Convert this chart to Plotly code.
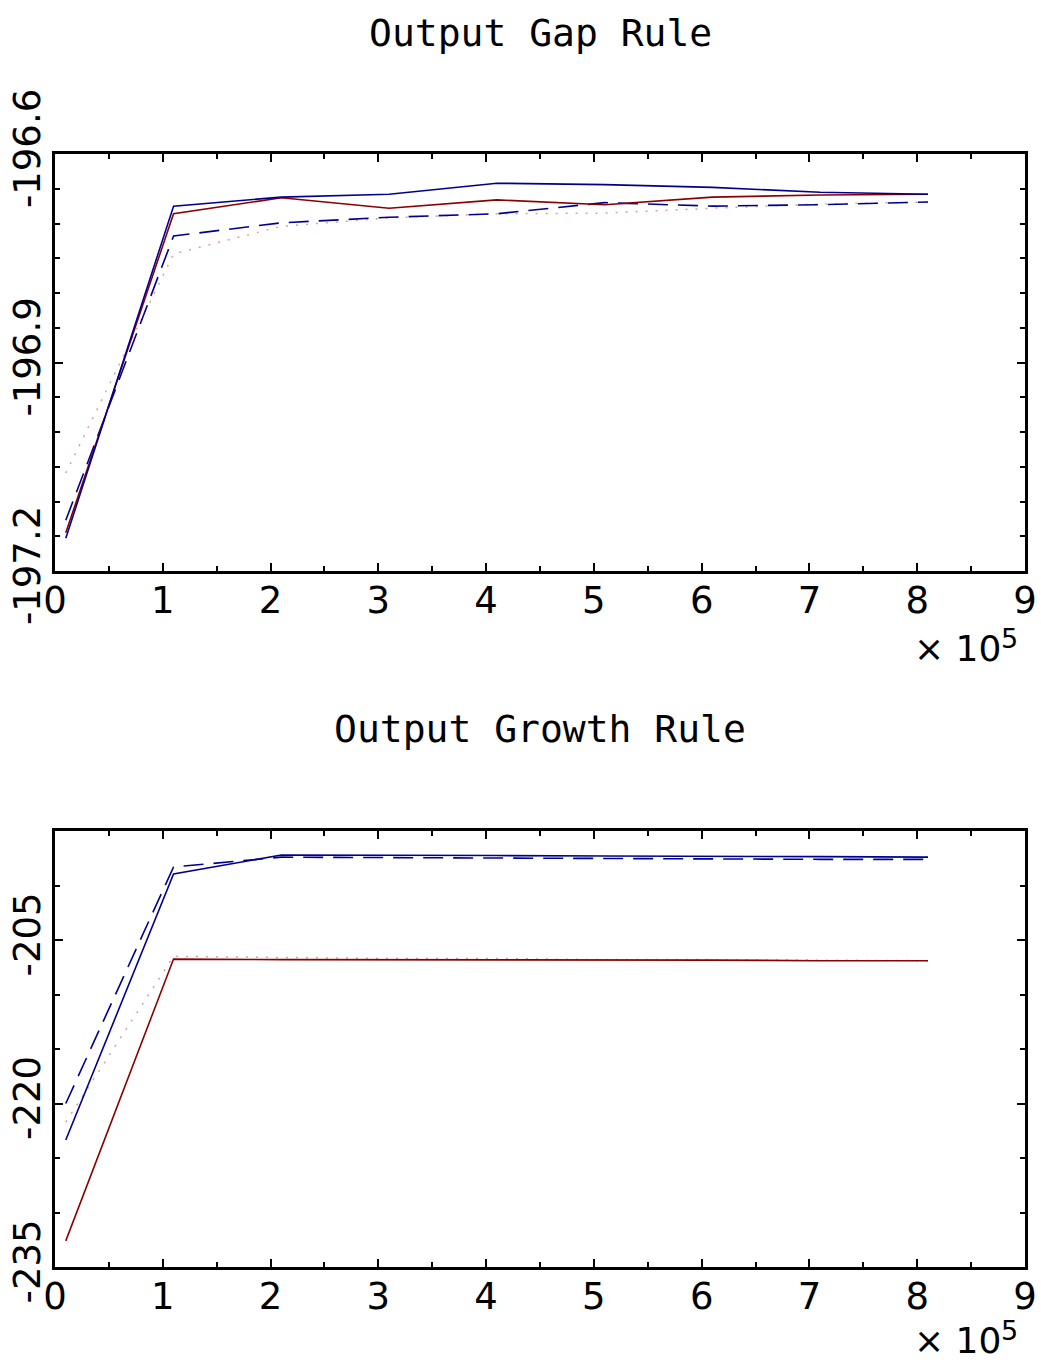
import plotly.graph_objects as go

# ---- data ----
x_vals = [1e4, 1.1e5, 2.1e5, 3.1e5, 4.1e5, 5.1e5, 6.1e5, 7.1e5, 8.1e5]

gap_blue_solid = [-197.153, -196.675, -196.662, -196.658, -196.642, -196.644, -196.648, -196.655, -196.658]
gap_red_solid = [-197.145, -196.686, -196.663, -196.678, -196.666, -196.673, -196.662, -196.659, -196.658]
gap_blue_dashed = [-197.127, -196.718, -196.699, -196.691, -196.686, -196.670, -196.675, -196.673, -196.669]
gap_dotted = [-197.059, -196.744, -196.704, -196.692, -196.686, -196.685, -196.678, -196.672, -196.669]

growth_blue_solid = [-223.35, -198.95, -197.2, -197.2, -197.25, -197.3, -197.3, -197.35, -197.4]
growth_blue_dashed = [-220.0, -198.3, -197.4, -197.45, -197.5, -197.5, -197.55, -197.6, -197.6]
growth_red_solid = [-232.6, -206.75, -206.8, -206.8, -206.8, -206.85, -206.85, -206.9, -206.9]
growth_dotted = [-221.7, -206.5, -206.6, -206.7, -206.7, -206.8, -206.8, -206.85, -206.9]

x_tickvals = [0, 1e5, 2e5, 3e5, 4e5, 5e5, 6e5, 7e5, 8e5, 9e5]
x_ticktext = ["0", "1", "2", "3", "4", "5", "6", "7", "8", "9"]
gap_ytickvals = [-197.2, -196.9, -196.6]
gap_yticktext = ["-197.2", "-196.9", "-196.6"]
growth_ytickvals = [-235, -220, -205]
growth_yticktext = ["-235", "-220", "-205"]

titles = ["Output Gap Rule", "Output Growth Rule"]

BLUE = "#00008f"
RED = "#8b0000"
DOT = "rgb(215,160,160)"

fig = go.Figure()

def add_set(xa, ya, dotted, dashed, red, blue):
    fig.add_trace(go.Scatter(x=x_vals, y=dotted, mode="lines", xaxis=xa, yaxis=ya,
                             line=dict(color=DOT, width=1.5, dash="2px,8px")))
    fig.add_trace(go.Scatter(x=x_vals, y=dashed, mode="lines", xaxis=xa, yaxis=ya,
                             line=dict(color=BLUE, width=1.6, dash="20px,10px")))
    fig.add_trace(go.Scatter(x=x_vals, y=red, mode="lines", xaxis=xa, yaxis=ya,
                             line=dict(color=RED, width=1.6)))
    fig.add_trace(go.Scatter(x=x_vals, y=blue, mode="lines", xaxis=xa, yaxis=ya,
                             line=dict(color=BLUE, width=1.6)))

add_set("x", "y", gap_dotted, gap_blue_dashed, gap_red_solid, gap_blue_solid)
add_set("x2", "y2", growth_dotted, growth_blue_dashed, growth_red_solid, growth_blue_solid)

tickfont = dict(family="DejaVu Sans", size=37, color="black")

def xaxis(anchor):
    return dict(
        anchor=anchor, domain=[0, 1], range=[0, 9e5], tickmode="array", tickvals=x_tickvals, ticktext=x_ticktext,
        showline=True, linewidth=3, linecolor="black", mirror="ticks",
        ticks="inside", ticklen=8, tickwidth=1.5, tickcolor="black",
        minor=dict(tickmode="linear", tick0=0, dtick=5e4, ticks="inside", ticklen=5, tickwidth=1.5, tickcolor="black"),
        showgrid=False, zeroline=False, tickfont=tickfont, automargin=False,
        ticklabelstandoff=-5,
    )

def yaxis(anchor, rng, tv, tt, dminor, domain):
    return dict(
        anchor=anchor, range=rng, domain=domain, tickmode="array", tickvals=tv, ticktext=tt,
        tickangle=-90,
        showline=True, linewidth=3, linecolor="black", mirror="ticks",
        ticks="inside", ticklen=8, tickwidth=1.5, tickcolor="black",
        minor=dict(tickmode="linear", tick0=rng[0], dtick=dminor, ticks="inside", ticklen=5, tickwidth=1.5, tickcolor="black"),
        showgrid=False, zeroline=False, tickfont=tickfont, automargin=False,
        ticklabelstandoff=-3,
    )

H = 1362.0
top_dom = [(H - 571) / H, (H - 154) / H]
bot_dom = [(H - 1267) / H, (H - 831) / H]

fig.update_layout(
    width=1041, height=1362,
    margin=dict(l=55, r=16, t=0, b=0, pad=0),
    paper_bgcolor="white", plot_bgcolor="white",
    showlegend=False,
    xaxis=xaxis("y"),
    xaxis2=xaxis("y2"),
    yaxis=yaxis("x", [-197.2, -196.6], gap_ytickvals, gap_yticktext, 0.05, top_dom),
    yaxis2=yaxis("x2", [-235, -195], growth_ytickvals, growth_yticktext, 5, bot_dom),
)

title_font = dict(family="DejaVu Sans Mono", size=38, color="black")
for t, ypix in zip(titles, [33, 729]):
    fig.add_annotation(text=t, xref="paper", yref="paper", x=(540 - 55) / 970.0, y=(H - ypix) / H,
                       xanchor="center", yanchor="middle", showarrow=False, font=title_font)

for ypix in [648, 1340]:
    fig.add_annotation(text="× 10", xref="paper", yref="paper", x=(1003 - 55) / 970.0, y=(H - ypix) / H,
                       xanchor="right", yanchor="middle", showarrow=False,
                       font=dict(family="DejaVu Sans", size=36, color="black"))
    fig.add_annotation(text="5", xref="paper", yref="paper", x=(999 - 55) / 970.0, y=(H - ypix + 10) / H,
                       xanchor="left", yanchor="middle", showarrow=False,
                       font=dict(family="DejaVu Sans", size=27, color="black"))

fig.write_html("out.html")
